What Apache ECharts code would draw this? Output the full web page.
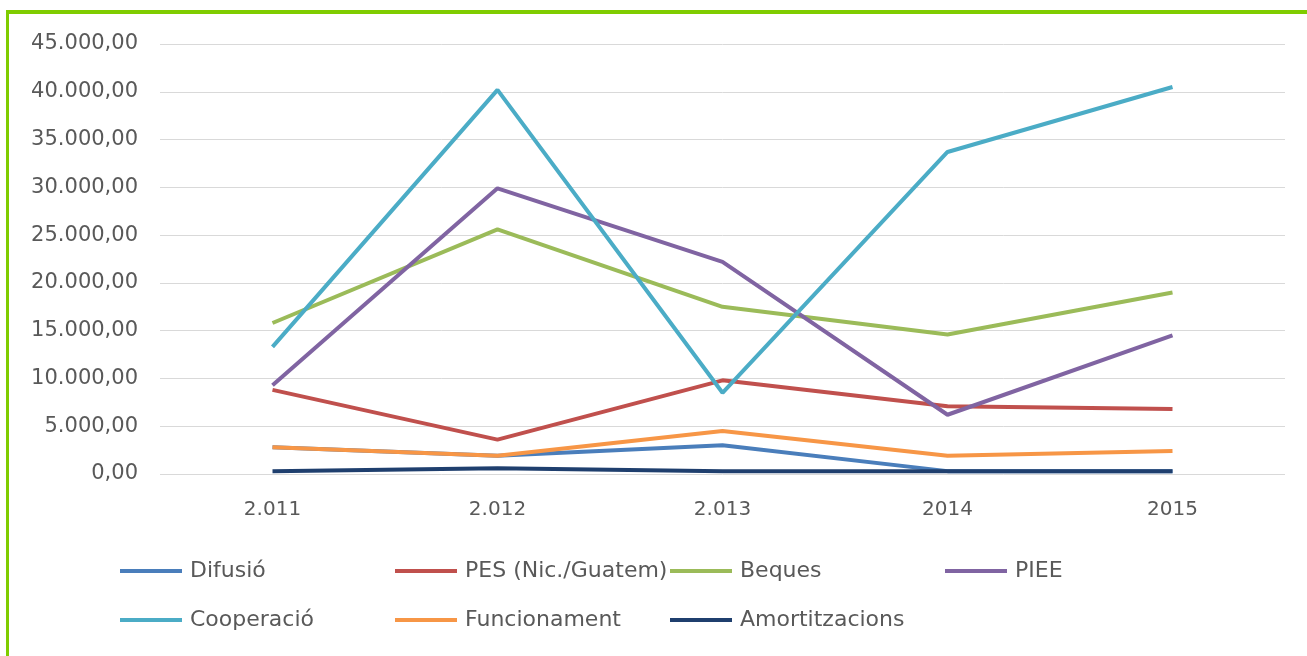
<!DOCTYPE html>
<html>
<head>
<meta charset="utf-8">
<script src="https://cdn.jsdelivr.net/npm/echarts@6/dist/echarts.min.js"></script>
<style>
html,body{margin:0;padding:0;background:#fff;}
#frame{position:absolute;left:6px;top:10px;width:1301px;height:646px;border-top:4px solid #7fcc00;border-left:3px solid #7fcc00;}
#chart{position:absolute;left:0;top:0;width:1307px;height:656px;}
</style>
</head>
<body>
<div id="frame"></div>
<div id="chart"></div>
<script>
const categories = ['2.011', '2.012', '2.013', '2014', '2015'];
const seriesNames = ['Difusió', 'PES (Nic./Guatem)', 'Beques', 'PIEE', 'Cooperació', 'Funcionament', 'Amortitzacions'];
const difusio = [2800, 1900, 3000, 300, 300];
const pes = [8800, 3600, 9800, 7100, 6800];
const beques = [15800, 25600, 17500, 14600, 19000];
const piee = [9300, 29900, 22200, 6200, 14500];
const cooperacio = [13300, 40200, 8500, 33700, 40500];
const funcionament = [2800, 1900, 4500, 1900, 2400];
const amortitzacions = [300, 600, 300, 300, 300];
const seriesValues = [difusio, pes, beques, piee, cooperacio, funcionament, amortitzacions];
const colors = ['#4a7ebb', '#c0504d', '#9bbb59', '#8064a2', '#4bacc6', '#f79646', '#1f3f6e'];

function fmt(v) {
  const s = Math.round(v).toString().replace(/\B(?=(\d{3})+(?!\d))/g, '.');
  return s + ',00';
}

const legendPos = [
  [120, 560], [395, 560], [670, 560], [945, 560],
  [120, 609], [395, 609], [670, 609]
];

const chart = echarts.init(document.getElementById('chart'));
chart.setOption({
  backgroundColor: 'transparent',
  animation: false,
  color: colors,
  grid: { left: 160, right: 22, top: 44, bottom: 182 },
  legend: seriesNames.map((n, i) => ({
    data: [n],
    left: legendPos[i][0],
    top: legendPos[i][1],
    padding: 0,
    icon: 'rect',
    itemWidth: 62,
    itemHeight: 4,
    itemGap: 6,
    textStyle: { color: '#595959', fontSize: 22, fontFamily: 'DejaVu Sans', padding: [0, 0, 0, 3] }
  })),
  xAxis: {
    type: 'category',
    data: categories,
    boundaryGap: true,
    axisLine: { show: false },
    axisTick: { show: false },
    axisLabel: { color: '#595959', fontSize: 20, fontFamily: 'DejaVu Sans', margin: 26 }
  },
  yAxis: {
    type: 'value',
    min: 0, max: 45000, interval: 5000,
    axisLine: { show: false },
    axisTick: { show: false },
    splitLine: { lineStyle: { color: '#d9d9d9', width: 1 } },
    axisLabel: { color: '#595959', fontSize: 21, fontFamily: 'DejaVu Sans', margin: 22, formatter: fmt }
  },
  series: seriesNames.map((n, i) => ({
    name: n,
    type: 'line',
    data: seriesValues[i],
    symbol: 'none',
    lineStyle: { width: 4, color: colors[i] },
    itemStyle: { color: colors[i] },
    z: 2 + i
  }))
});
</script>
</body>
</html>
